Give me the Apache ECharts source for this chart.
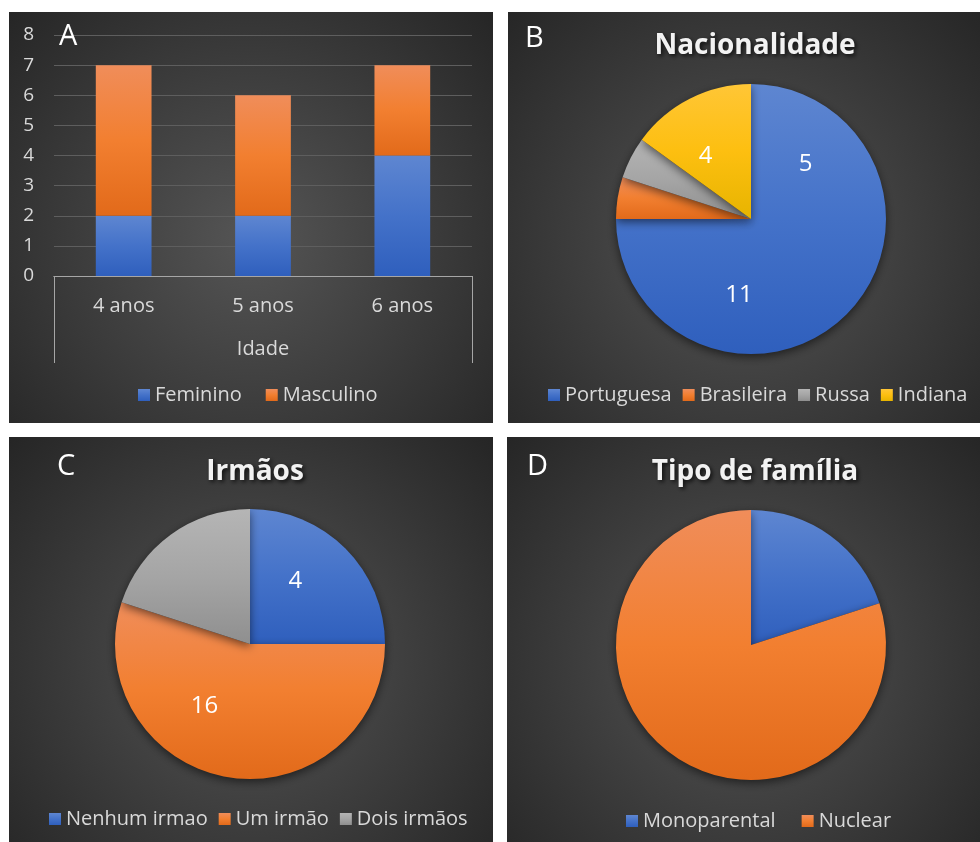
<!DOCTYPE html>
<html><head><meta charset="utf-8">
<script src="https://cdn.jsdelivr.net/npm/echarts@6/dist/echarts.min.js"></script>
<style>html,body{margin:0;padding:0;background:#fff}#c{width:980px;height:842px}</style>
</head><body><div id="c"></div>
<script>
// ---- data ----
const ages = ['4 anos', '5 anos', '6 anos'];
const feminino = [2, 2, 4];
const masculino = [5, 4, 3];
const yTicks = [0, 1, 2, 3, 4, 5, 6, 7, 8];

const nacionalidades = ['Portuguesa', 'Brasileira', 'Russa', 'Indiana'];
const nacionalidadeValues = [15, 1, 1, 3];
const nacionalidadeLabels = [5, 11, 4];   // label texts as printed in the picture

const irmaos = ['Nenhum irmao', 'Um irmão', 'Dois irmãos'];
const irmaosValues = [5, 11, 4];
const irmaosLabels = [4, 16];             // label texts as printed in the picture

const familias = ['Monoparental', 'Nuclear'];
const familiaValues = [4, 16];

// ---- styles ----
const FONT = 'Open Sans';
const TXT = '#d9d9d9';
function lg(stops){return {type:'linear',x:0,y:0,x2:0,y2:1,colorStops:stops.map((c,i)=>({offset:i/(stops.length-1),color:c}))};}
const BLUE = lg(['#5e86d1','#4472c9','#2f5fbd']);
const ORANGE = lg(['#f08d5a','#f27f30','#e26a1a']);
const GRAY = lg(['#b5b5b5','#a5a5a5','#8f8f8f']);
const YELLOW = lg(['#ffc636','#fdbf10','#e7b400']);
const pieColors = [BLUE, ORANGE, GRAY, YELLOW];
const bgFill = {type:'radial',x:0.5,y:0.55,r:0.85,colorStops:[{offset:0,color:'#555555'},{offset:1,color:'#232323'}]};
const panels = [[9,12,484,411],[508,12,472,411],[9,437,484,405],[507,437,473,405]];
const R = 135;

function pie(center, names, values){
  return {type:'pie', center:center, radius:[0,R], startAngle:90, clockwise:true,
    label:{show:false}, labelLine:{show:false}, emphasis:{disabled:true}, silent:true,
    itemStyle:{shadowBlur:10, shadowColor:'rgba(0,0,0,0.55)', shadowOffsetY:3, borderWidth:0},
    data:names.map((n,i)=>({name:n, value:values[i], itemStyle:{color:pieColors[i]}}))};
}
function labelPie(center, labels){
  return {type:'pie', center:center, radius:[0,R*1.1], startAngle:90, clockwise:true, silent:true,
    emphasis:{disabled:true}, legendHoverLink:false, z:5,
    itemStyle:{color:'rgba(0,0,0,0)'},
    label:{show:true, position:'inside', formatter:'{c}', color:'#ffffff', fontFamily:FONT, fontSize:24},
    labelLine:{show:false},
    data:labels.map((v,i)=>({name:'lbl'+i+'_'+center[0]+'_'+center[1], value:v}))};
}
function legend(left, top, names, gap){
  return {left:left, top:top, data:names, itemWidth:12, itemHeight:12, itemGap:gap, icon:'rect',
    selectedMode:false, textStyle:{color:TXT, fontFamily:FONT, fontSize:20}};
}
const titleStyle = {color:'#f2f2f2', fontFamily:FONT, fontWeight:'bold', fontSize:28,
  textShadowColor:'rgba(0,0,0,0.75)', textShadowBlur:4, textShadowOffsetX:2, textShadowOffsetY:2};
const letterStyle = {color:'#ffffff', fontFamily:FONT, fontWeight:'normal', fontSize:29};

const chart = echarts.init(document.getElementById('c'));
chart.setOption({
  backgroundColor:'#ffffff',
  animation:false,
  graphic: panels.map(p=>({type:'rect', z:-100, silent:true, shape:{x:p[0],y:p[1],width:p[2],height:p[3]}, style:{fill:bgFill}})),
  title:[
    {text:'A', left:54, top:17, textStyle:letterStyle},
    {text:'B', left:520, top:19, textStyle:letterStyle},
    {text:'C', left:52, top:447, textStyle:letterStyle},
    {text:'D', left:522, top:447, textStyle:letterStyle},
    {text:'Nacionalidade', left:750, top:27, textAlign:'center', textStyle:titleStyle},
    {text:'Irmãos', left:250, top:453, textAlign:'center', textStyle:titleStyle},
    {text:'Tipo de família', left:750, top:453, textAlign:'center', textStyle:titleStyle}
  ],
  legend:[
    legend(133, 380, ['Feminino','Masculino'], 24),
    legend(543, 380, nacionalidades, 11),
    legend(44, 804, irmaos, 11),
    legend(621, 806, familias, 26)
  ],
  grid:{left:54, right:508, top:35, bottom:566, containLabel:false},
  xAxis:[
    {type:'category', gridIndex:0, data:ages, position:'bottom',
      axisLine:{show:true, lineStyle:{color:'#a6a6a6', width:1}}, axisTick:{show:false},
      axisLabel:{color:TXT, fontFamily:FONT, fontSize:20, margin:20}},
    {type:'category', gridIndex:0, data:['Idade'], position:'bottom', boundaryGap:true,
      axisLine:{show:true, lineStyle:{color:'#a6a6a6', width:1}},
      axisTick:{show:true, length:87, interval:0, lineStyle:{color:'#a6a6a6', width:1}},
      axisLabel:{color:TXT, fontFamily:FONT, fontSize:20, margin:63}}
  ],
  yAxis:{type:'value', min:yTicks[0], max:yTicks[yTicks.length-1], interval:1,
    axisLine:{show:false}, axisTick:{show:false},
    splitLine:{lineStyle:{color:'#5e5e5e', width:1}},
    axisLabel:{color:TXT, fontFamily:FONT, fontSize:19, margin:20}},
  series:[
    {name:'Feminino', type:'bar', stack:'idade', data:feminino, barWidth:'40%', itemStyle:{color:BLUE}, silent:true},
    {name:'Masculino', type:'bar', stack:'idade', data:masculino, barWidth:'40%', itemStyle:{color:ORANGE}, silent:true},
    pie([751,219], nacionalidades, nacionalidadeValues),
    labelPie([751,219], nacionalidadeLabels),
    pie([250,644], irmaos, irmaosValues),
    labelPie([250,644], irmaosLabels),
    pie([751,645], familias, familiaValues)
  ]
});
</script></body></html>
